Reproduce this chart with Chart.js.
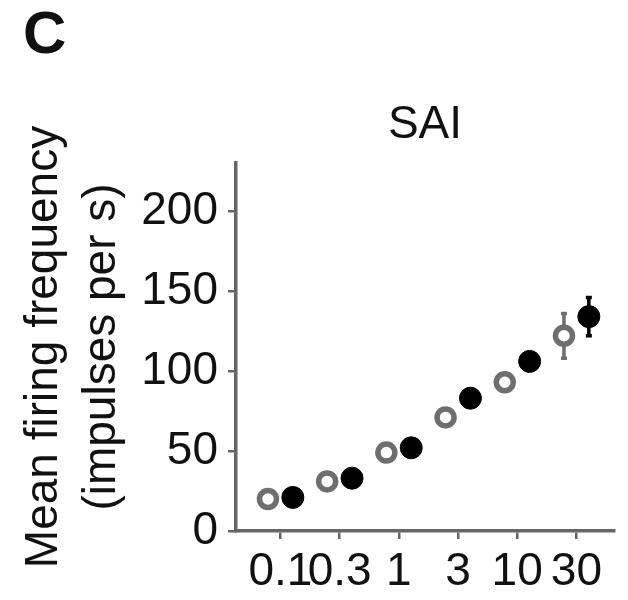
<!DOCTYPE html>
<html>
<head>
<meta charset="utf-8">
<script src="https://cdn.jsdelivr.net/npm/chart.js@4.4.1/dist/chart.umd.min.js"></script>
<style>
	body { margin: 0; background: #fff; }
	canvas { display: block; }
</style>
</head>
<body>
<canvas id="sai-chart" width="628" height="600"></canvas>
<script>
// stimulus levels shown on the x axis
const stimLabels = ['0.1', '0.3', '1', '3', '10', '30']
// y ticks
const yTicks = [0, 50, 100, 150, 200]
// open circles
const openMeans = [20, 31, 49, 71, 93, 122]
const openErrors = [2, 2, 3, 3, 4, 14]
// filled circles
const filledMeans = [21, 33, 52, 83, 106, 134]
const filledErrors = [2, 2, 3, 3, 4, 12]

const FONT = "'Liberation Sans', Arial, Helvetica, sans-serif"
const AXIS_GREY = '#666'

function toPoints(values, shift) {
	return values.map((v, i) => ({ x: i + shift, y: v }))
}

// error bars drawn under the markers
const errorBars = {
	id: 'errorBars',
	beforeDatasetsDraw(chart) {
		const ctx = chart.ctx
		const yScale = chart.scales.y
		chart.data.datasets.forEach((ds, i) => {
			const meta = chart.getDatasetMeta(i)
			ctx.save()
			ctx.strokeStyle = ds.borderColor
			ctx.lineWidth = 3.5
			meta.data.forEach((pt, j) => {
				const v = ds.data[j].y
				const e = ds.errors[j]
				const top = yScale.getPixelForValue(v + e)
				const bottom = yScale.getPixelForValue(v - e)
				ctx.beginPath()
				ctx.moveTo(pt.x, top)
				ctx.lineTo(pt.x, bottom)
				ctx.moveTo(pt.x - 3, top)
				ctx.lineTo(pt.x + 3, top)
				ctx.moveTo(pt.x - 3, bottom)
				ctx.lineTo(pt.x + 3, bottom)
				ctx.stroke()
			})
			ctx.restore()
		})
	}
}

// panel letter and panel title
const panelText = {
	id: 'panelText',
	afterDraw(chart) {
		const ctx = chart.ctx
		const area = chart.chartArea
		ctx.save()
		ctx.fillStyle = '#111'
		ctx.textBaseline = 'alphabetic'
		ctx.font = 'bold 60px ' + FONT
		ctx.textAlign = 'left'
		ctx.fillText('C', 23, 53)
		ctx.font = '46px ' + FONT
		ctx.textAlign = 'center'
		ctx.fillText('SAI', area.left + 189, 138)
		ctx.restore()
	}
}

const ctxEl = document.querySelector('#sai-chart')
const saiChart = new Chart(ctxEl, {
	type: 'scatter',
	data: {
		datasets: [
			{
				label: 'open',
				data: toPoints(openMeans, -0.21),
				errors: openErrors,
				pointRadius: 8.5,
				pointBorderWidth: 5.5,
				borderColor: '#6e6e6e',
				backgroundColor: '#fff',
				pointHoverRadius: 8.5
			},
			{
				label: 'filled',
				data: toPoints(filledMeans, 0.21),
				errors: filledErrors,
				pointRadius: 11,
				pointBorderWidth: 1,
				borderColor: '#000',
				backgroundColor: '#000',
				pointHoverRadius: 11
			}
		]
	},
	options: {
		responsive: false,
		animation: false,
		layout: { padding: { top: 163, left: 0, right: 0, bottom: 0 } },
		plugins: {
			legend: { display: false },
			tooltip: { enabled: false },
			title: { display: false }
		},
		scales: {
			x: {
				type: 'linear',
				min: -0.75,
				max: 5.635,
				afterFit: s => { s.height = 69 },
				afterBuildTicks: s => { s.ticks = stimLabels.map((_, i) => ({ value: i })) },
				ticks: {
					autoSkip: false,
					maxRotation: 0,
					padding: 6,
					color: '#111',
					font: { family: FONT, size: 46 },
					callback: v => stimLabels[v]
				},
				grid: { drawOnChartArea: false, drawTicks: true, tickLength: 8, color: AXIS_GREY, lineWidth: 2.5 },
				border: { display: true, color: AXIS_GREY, width: 3.5 }
			},
			y: {
				type: 'linear',
				min: 0,
				max: 230,
				afterFit: s => { s.width = 236 },
				afterBuildTicks: s => { s.ticks = yTicks.map(v => ({ value: v })) },
				ticks: {
					padding: 10,
					color: '#111',
					font: { family: FONT, size: 46 }
				},
				title: {
					display: true,
					text: ['Mean firing frequency', '(impulses per s)'],
					color: '#111',
					font: { family: FONT, size: 46, lineHeight: 1.26 },
					padding: { top: 15, bottom: 0 }
				},
				grid: { drawOnChartArea: false, drawTicks: true, tickLength: 8, color: AXIS_GREY, lineWidth: 2.5 },
				border: { display: true, color: AXIS_GREY, width: 3.5 }
			}
		}
	},
	plugins: [errorBars, panelText]
})
</script>
</body>
</html>
